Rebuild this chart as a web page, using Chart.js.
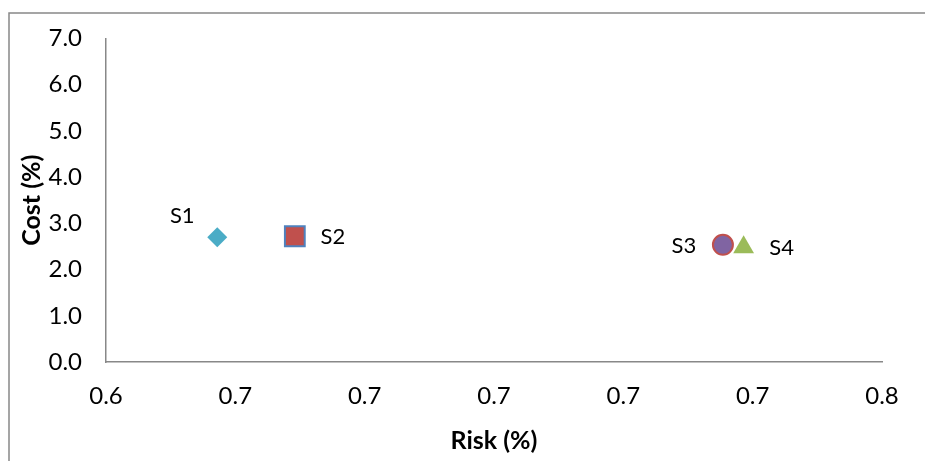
<!DOCTYPE html>
<html>
<head>
<meta charset="utf-8">
<script src="https://cdn.jsdelivr.net/npm/chart.js@4/dist/chart.umd.min.js"></script>
<style>
html, body { margin: 0; padding: 0; background: #ffffff; }
#wrap { width: 925px; height: 461px; position: relative; }
</style>
</head>
<body>
<div id="wrap"><canvas id="c" width="925" height="461"></canvas></div>
<script>
// ---- Data ----
const seriesNames = ['S1', 'S2', 'S3', 'S4'];
const riskValues  = [0.6572, 0.6692, 0.7354, 0.7386];   // x (Risk %)
const costValues  = [2.70, 2.72, 2.535, 2.48];           // y (Cost %)
const xTickValues = [0.64, 0.66, 0.68, 0.70, 0.72, 0.74, 0.76];
const xTickLabels = ['0.6', '0.7', '0.7', '0.7', '0.7', '0.7', '0.8'];
const yTickValues = [0, 1, 2, 3, 4, 5, 6, 7];
const yTickLabels = ['0.0', '1.0', '2.0', '3.0', '4.0', '5.0', '6.0', '7.0'];

// ---- Styles ----
const FONT = 'Lato, "Open Sans", sans-serif';
const markerStyles = [
  { pointStyle: 'rectRot',  radius: 10, fill: '#4BACC6', border: '#4BACC6', bw: 0 },
  { pointStyle: 'rect',     radius: 14, fill: '#C0504D', border: '#4F81BD', bw: 2 },
  { pointStyle: 'circle',   radius: 10, fill: '#8064A2', border: '#C0504D', bw: 2 },
  { pointStyle: 'triangle', radius: 12, fill: '#9BBB59', border: '#9BBB59', bw: 0 }
];
const labelOffsets = [ [-35, -21], [38, 1], [-39, 1], [38, 1] ];

const datasets = seriesNames.map((name, i) => ({
  label: name,
  data: [{ x: riskValues[i], y: costValues[i] }],
  pointStyle: markerStyles[i].pointStyle,
  pointRadius: markerStyles[i].radius,
  pointHoverRadius: markerStyles[i].radius,
  backgroundColor: markerStyles[i].fill,
  borderColor: markerStyles[i].border,
  borderWidth: markerStyles[i].bw,
  labelOffset: labelOffsets[i]
}));

const frameBorder = {
  id: 'frameBorder',
  beforeDraw(chart) {
    const ctx = chart.ctx;
    ctx.save();
    ctx.strokeStyle = '#888888';
    ctx.lineWidth = 1.5;
    ctx.beginPath();
    ctx.moveTo(9, chart.height + 2);
    ctx.lineTo(9, 13);
    ctx.lineTo(chart.width + 2, 13);
    ctx.stroke();
    ctx.restore();
  }
};

const pointLabels = {
  id: 'pointLabels',
  afterDatasetsDraw(chart) {
    const ctx = chart.ctx;
    ctx.save();
    ctx.font = '22px ' + FONT;
    ctx.fillStyle = '#000000';
    ctx.textAlign = 'center';
    ctx.textBaseline = 'middle';
    chart.data.datasets.forEach((ds, i) => {
      const el = chart.getDatasetMeta(i).data[0];
      if (!el) return;
      const off = ds.labelOffset || [0, 0];
      ctx.fillText(ds.label, el.x + off[0], el.y + off[1]);
    });
    ctx.restore();
  }
};

new Chart(document.getElementById('c'), {
  type: 'scatter',
  data: { datasets },
  options: {
    responsive: false,
    animation: false,
    devicePixelRatio: 1,
    layout: { padding: { left: 0, top: 37, right: 43, bottom: 0 } },
    plugins: { legend: { display: false }, tooltip: { enabled: false } },
    scales: {
      x: {
        type: 'linear',
        min: 0.64, max: 0.76,
        afterFit: s => { s.height = 99; },
        afterBuildTicks: s => { s.ticks = xTickValues.map(v => ({ value: v })); },
        ticks: {
          padding: 20,
          color: '#000000',
          font: { family: FONT, size: 24 },
          maxRotation: 0,
          callback: (v, i) => xTickLabels[i]
        },
        grid: { display: false, drawTicks: false },
        border: { display: true, color: '#888888', width: 1.5 },
        title: {
          display: true, text: 'Risk (%)', color: '#000000',
          font: { family: FONT, size: 25, weight: 'bold' },
          padding: { top: 0, bottom: 5 }
        }
      },
      y: {
        type: 'linear',
        min: 0, max: 7,
        afterFit: s => { s.width = 106; },
        afterBuildTicks: s => { s.ticks = yTickValues.map(v => ({ value: v })); },
        ticks: {
          padding: 24,
          color: '#000000',
          font: { family: FONT, size: 24 },
          callback: (v, i) => yTickLabels[i]
        },
        grid: { display: false, drawTicks: false },
        border: { display: true, color: '#888888', width: 1.5 },
        title: {
          display: true, text: 'Cost (%)', color: '#000000',
          font: { family: FONT, size: 25, weight: 'bold' },
          padding: { top: 17, bottom: 0 }
        }
      }
    }
  },
  plugins: [frameBorder, pointLabels]
});
</script>
</body>
</html>
